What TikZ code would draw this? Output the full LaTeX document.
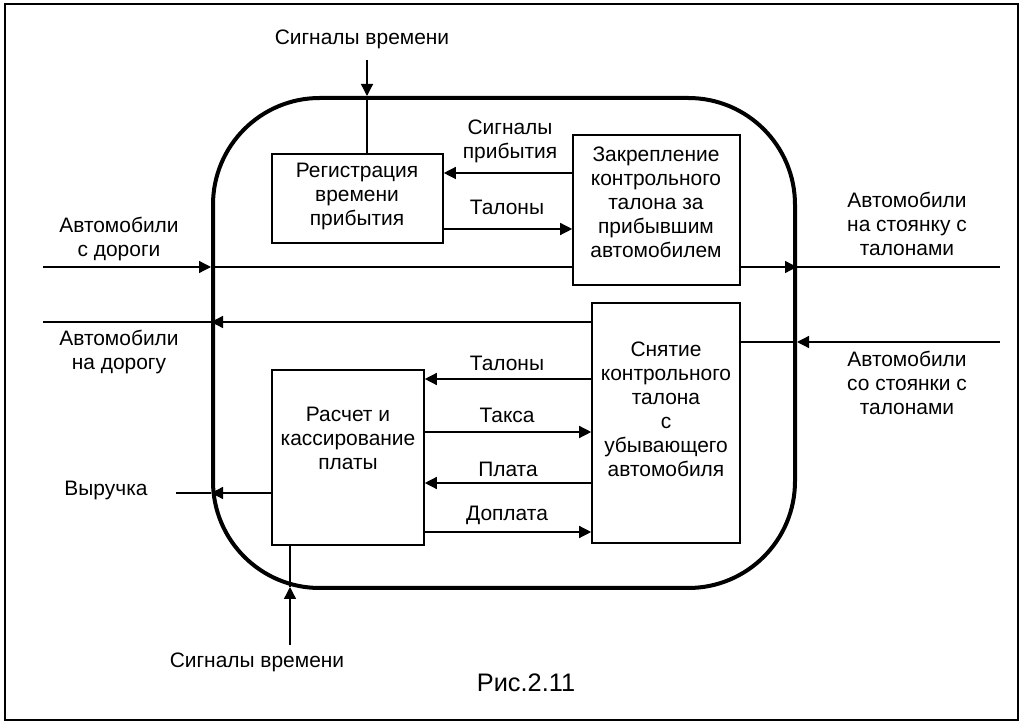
\documentclass[tikz,border=0pt]{standalone}
\usepackage{fontspec}
\setmainfont{Liberation Sans}
\usetikzlibrary{arrows.meta,fit}
\begin{document}
\begin{tikzpicture}[x=0.75pt,y=-0.75pt,
  every node/.style={font=\fontsize{15.7}{18}\selectfont},
  lbl/.style={align=center, inner sep=0pt},
  box/.style={draw, line width=1.2pt, inner sep=0pt},
  flow/.style={line width=1pt},
  arr/.style={flow, -{Triangle[length=9pt,width=9pt]}},
  sysframe/.style={draw, line width=3pt, rounded corners=80pt, inner sep=0pt},
]
\useasboundingbox (0,0) rectangle (1033,723);
% outer frame
\draw[line width=1.1pt] (5,4) rectangle (1018,720);

% system boundary and process boxes
\node[sysframe, fit={(213,98)(795,588)}] (sys) {};
\node[box, fit={(272,154)(443,243)}] (reg) {};
\node[box, fit={(573,135)(740,285)}] (fix) {};
\node[box, fit={(592,303)(740,543)}] (rem) {};
\node[box, fit={(272,370)(424,545)}] (pay) {};

\node[lbl] at (357,196) {Регистрация\\времени\\прибытия};
\node[lbl] at (656,202) {Закрепление\\контрольного\\талона за\\прибывшим\\автомобилем};
\node[lbl] at (666,409) {Снятие\\контрольного\\талона\\с\\убывающего\\автомобиля};
\node[lbl] at (348,438) {Расчет и\\кассирование\\платы};

% helper levels and free ends
\coordinate (tsIn) at (367,60);
\coordinate (r173) at (0,173);
\coordinate (r229) at (0,229);
\coordinate (roadIn) at (43,267);
\coordinate (parkOut) at (1000,267);
\coordinate (roadOut) at (43,322);
\coordinate (parkIn) at (1000,342);
\coordinate (r379) at (0,379);
\coordinate (r432) at (0,432);
\coordinate (r483) at (0,483);
\coordinate (r532) at (0,532);
\coordinate (rev) at (176,493);
\coordinate (bsIn) at (290,645);
\coordinate (bsTip) at (290,587);

% time signals (top)
\draw[arr] (tsIn) -- (tsIn |- sys.north);
\draw[flow] (tsIn |- sys.north) -- (tsIn |- reg.north);
% arrival signals and tickets
\draw[arr] (r173 -| fix.west) -- (r173 -| reg.east);
\draw[arr] (r229 -| reg.east) -- (r229 -| fix.west);
% cars from the road to the parking
\draw[arr] (roadIn) -- (roadIn -| sys.west);
\draw[flow] (roadIn -| sys.west) -- (roadIn -| fix.west);
\draw[arr] (roadIn -| fix.east) -- (roadIn -| sys.east);
\draw[flow] (parkOut -| sys.east) -- (parkOut);
% cars to the road
\draw[arr] (roadOut -| rem.west) -- (roadOut -| sys.west);
\draw[flow] (roadOut -| sys.west) -- (roadOut);
% cars from the parking
\draw[arr] (parkIn) -- (parkIn -| sys.east);
\draw[flow] (parkIn -| sys.east) -- (parkIn -| rem.east);
% exchanges between payment and ticket removal
\draw[arr] (r379 -| rem.west) -- (r379 -| pay.east);
\draw[arr] (r432 -| pay.east) -- (r432 -| rem.west);
\draw[arr] (r483 -| rem.west) -- (r483 -| pay.east);
\draw[arr] (r532 -| pay.east) -- (r532 -| rem.west);
% revenue
\draw[arr] (rev -| pay.west) -- (rev -| sys.west);
\draw[flow] (rev -| sys.west) -- (rev);
% time signals (bottom)
\draw[arr] (bsIn) -- (bsTip);
\draw[flow] (bsTip) -- (bsTip |- pay.south);

% labels
\node[lbl] at (362,39) {Сигналы времени};
\node[lbl] at (510,141) {Сигналы\\прибытия};
\node[lbl] at (507,207) {Талоны};
\node[lbl] at (119,239) {Автомобили\\с дороги};
\node[lbl] at (907,224) {Автомобили\\на стоянку с\\талонами};
\node[lbl] at (119,352) {Автомобили\\на дорогу};
\node[lbl] at (907,383) {Автомобили\\со стоянки с\\талонами};
\node[lbl] at (507,363) {Талоны};
\node[lbl] at (507,415) {Такса};
\node[lbl] at (508,469) {Плата};
\node[lbl] at (507,515) {Доплата};
\node[lbl] at (106,490) {Выручка};
\node[lbl] at (257,662) {Сигналы времени};
\node[lbl, font=\fontsize{19}{22}\selectfont] at (526,683) {Рис.2.11};
\end{tikzpicture}
\end{document}
